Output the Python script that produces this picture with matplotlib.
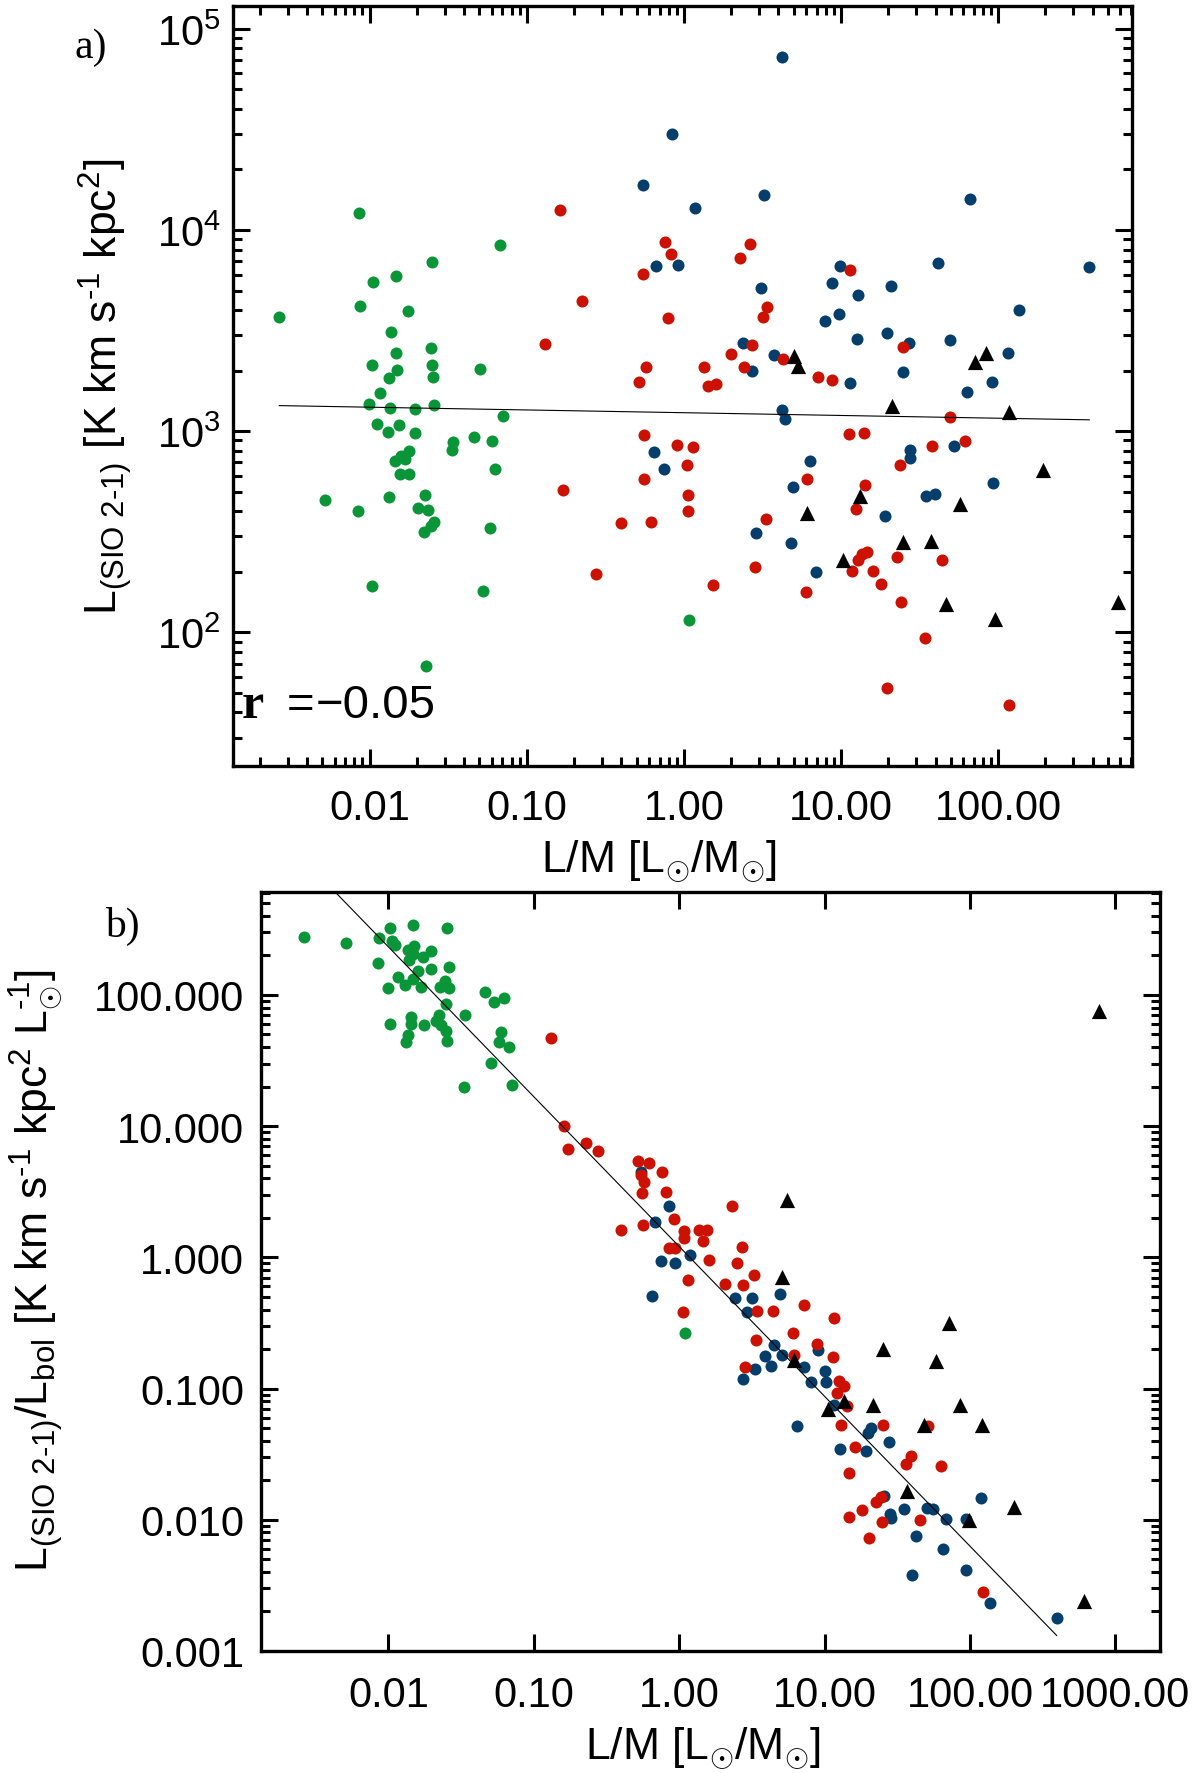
import numpy as np
import matplotlib.pyplot as plt
from matplotlib.ticker import LogLocator, FuncFormatter, NullLocator, NullFormatter

plt.rcParams['font.family'] = ['Liberation Sans', 'DejaVu Sans']
plt.rcParams['mathtext.fontset'] = 'custom'
plt.rcParams['mathtext.rm'] = 'Liberation Sans'
plt.rcParams['mathtext.it'] = 'Liberation Sans:italic'
plt.rcParams['mathtext.bf'] = 'Liberation Sans:bold'

# ---------------- panel a: L(SiO 2-1) vs L/M ----------------
green_a_x = [0.00266, 0.00854, 0.0672, 0.0248, 0.01057, 0.01472, 0.0087, 0.0175, 0.01377, 0.0147,
             0.0245, 0.01028, 0.01496, 0.0248, 0.0252, 0.01337, 0.0507, 0.0116, 0.00994, 0.01352,
             0.01945, 0.0258, 0.0701, 0.0111, 0.0154, 0.013, 0.01945, 0.0337, 0.0464, 0.060,
             0.0333, 0.0177, 0.0158, 0.0169, 0.01456, 0.01567, 0.0177, 0.0624, 0.00519, 0.00845,
             0.01337, 0.02254, 0.0204, 0.0234, 0.0258, 0.0245, 0.0221, 0.0587, 0.0104, 0.0527,
             0.0229, 1.08]
green_a_y = [3680, 12200, 8450, 6900, 5530, 5930, 4170, 3940, 3100, 2440,
             2590, 2140, 2020, 2140, 1850, 1840, 2030, 1540, 1370, 1310,
             1285, 1350, 1190, 1090, 1075, 993, 977, 885, 937, 895,
             803, 798, 753, 726, 712, 611, 611, 647, 455, 401,
             473, 481, 417, 406, 354, 338, 316, 329, 171, 161,
             67.8, 115]

red_a_x = [0.1626, 0.225, 0.1306, 0.169, 0.277, 0.753, 0.834, 0.551, 2.64, 2.27,
           11.4, 0.798, 3.39, 3.2, 2.7, 2.0, 0.577, 0.515, 1.34, 1.42,
           1.61, 2.42, 4.3, 7.1, 8.77, 24.7, 49.8, 0.554, 0.908, 1.135,
           1.04, 0.56, 1.06, 1.06, 0.396, 0.614, 1.53, 2.83, 3.31, 6.06,
           5.96, 11.2, 14.1, 23.8, 38.0, 61.2, 14.3, 12.4, 12.8, 13.7,
           14.7, 11.7, 15.9, 17.9, 22.7, 24.2, 44.0, 34.4, 19.5, 118]
red_a_y = [12600, 4450, 2710, 508, 195, 8750, 7600, 6070, 8510, 7280,
           6300, 3650, 4150, 3700, 2680, 2410, 2080, 1760, 2080, 1675,
           1710, 2090, 2280, 1860, 1790, 2620, 1180, 960, 855, 839,
           680, 577, 482, 400, 348, 354, 172, 212, 365, 577,
           158, 970, 977, 682, 842, 895, 538, 412, 230, 245,
           250, 202, 202, 175, 237, 142, 229, 93.3, 53.2, 43.4]

blue_a_x = [4.24, 0.843, 0.548, 1.18, 3.25, 66.7, 0.667, 0.918, 9.82, 41.2,
            381, 3.11, 8.81, 12.8, 20.7, 136, 7.94, 9.75, 19.7, 12.6,
            27.2, 49.2, 2.37, 3.77, 2.72, 25.0, 11.4, 116, 91.9, 63.1,
            4.24, 4.41, 0.644, 0.746, 6.34, 4.95, 2.88, 4.84, 6.98, 19.0,
            27.5, 27.5, 52.7, 34.6, 39.4, 92.9]
blue_a_y = [72300, 30100, 16700, 12900, 14900, 14200, 6640, 6740, 6640, 6830,
            6550, 5170, 5440, 4760, 5280, 4000, 3540, 3820, 3080, 2880,
            2730, 2840, 2730, 2400, 1990, 1970, 1730, 2440, 1750, 1570,
            1270, 1150, 784, 652, 711, 528, 313, 279, 200, 381,
            807, 740, 845, 476, 490, 553]

tri_a_x = [5.01, 5.36, 21.1, 84.0, 71.8, 117, 193, 13.3, 6.1, 57.3,
           10.3, 24.7, 37.2, 46.3, 95.5, 580]
tri_a_y = [2370, 2110, 1330, 2460, 2200, 1250, 641, 477, 391, 437,
           228, 281, 285, 138, 116, 141]

# log-log fit: log y = c0 + c1 * log x
fit_a = (3.092, -0.0137)
r_value_a = '\u22120.05'

# ---------------- panel b: L(SiO 2-1)/Lbol vs L/M ----------------
green_b_x = [0.00264, 0.00513, 0.01467, 0.0253, 0.0102, 0.0086, 0.01064, 0.0111, 0.01355, 0.01502,
             0.01467, 0.0195, 0.01726, 0.0138, 0.00844, 0.0195, 0.0259, 0.01597, 0.01164, 0.01467,
             0.01298, 0.00989, 0.01675, 0.0244, 0.0227, 0.0259, 0.0248, 0.0464, 0.0530, 0.0628,
             0.0337, 0.01439, 0.01439, 0.01033, 0.0176, 0.0211, 0.0224, 0.023, 0.0248, 0.01355,
             0.0133, 0.0251, 0.0591, 0.058, 0.0675, 0.0508, 0.0332, 0.0705, 1.096]
green_b_y = [277, 247, 340, 321, 321, 270, 259, 240, 220, 237,
             205, 217, 194, 185, 175, 158, 163, 153, 138, 132,
             118, 113, 114, 128, 114, 112, 85.5, 105, 88.9, 94.4,
             70.5, 67.6, 60.1, 60.1, 59.4, 63.8, 69.7, 59.1, 53.5, 49.7,
             43.7, 44.9, 52.0, 43.7, 40.0, 30.2, 19.9, 20.4, 0.264]

red_b_x = [0.1315, 0.1625, 0.1726, 0.227, 0.275, 0.524, 0.616, 0.762, 0.548, 0.573,
           0.556, 0.81, 2.31, 0.398, 0.565, 0.92, 1.07, 1.36, 1.56, 1.07,
           1.45, 0.85, 0.93, 2.69, 1.61, 2.48, 1.15, 3.26, 2.05, 2.74,
           7.21, 1.06, 3.42, 4.39, 11.6, 6.1, 3.37, 8.93, 11.5, 6.2,
           2.82, 12.6, 13.5, 12.1, 14.2, 13.0, 25.3, 51.4, 16.2, 14.7,
           36.0, 39.4, 62.8, 22.7, 24.5, 18.2, 14.7, 24.7, 45.0, 20.2,
           122]
red_b_y = [46.9, 10.1, 6.75, 7.45, 6.43, 5.43, 5.25, 4.48, 4.23, 3.72,
           3.07, 3.16, 2.47, 1.62, 1.76, 1.95, 1.58, 1.61, 1.61, 1.40,
           1.32, 1.17, 1.17, 1.19, 0.953, 0.90, 0.666, 0.727, 0.624, 0.61,
           0.434, 0.386, 0.393, 0.393, 0.344, 0.264, 0.235, 0.218, 0.173, 0.179,
           0.145, 0.115, 0.104, 0.0925, 0.0733, 0.0531, 0.0525, 0.0516, 0.0357, 0.0228,
           0.0268, 0.0305, 0.0259, 0.0137, 0.015, 0.0118, 0.0105, 0.00966, 0.00989, 0.0073,
           0.00283]

blue_b_x = [0.548, 0.85, 0.678, 1.19, 0.752, 0.93, 0.65, 2.41, 3.18, 4.93,
            2.94, 4.5, 3.87, 5.07, 4.29, 3.32, 2.75, 7.26, 9.01, 10.0,
            8.0, 10.2, 6.47, 11.6, 20.7, 19.8, 12.8, 19.4, 27.9, 25.6,
            28.2, 28.6, 35.2, 50.8, 55.6, 68.7, 93.1, 119, 42.4, 64.7,
            39.8, 94.2, 138, 394]
blue_b_y = [4.48, 2.47, 1.87, 1.04, 0.944, 0.90, 0.508, 0.494, 0.488, 0.526,
            0.386, 0.215, 0.177, 0.181, 0.149, 0.141, 0.119, 0.147, 0.195, 0.136,
            0.113, 0.113, 0.0516, 0.0746, 0.0501, 0.0459, 0.0347, 0.0333, 0.039, 0.0153,
            0.011, 0.0103, 0.0121, 0.0123, 0.0121, 0.0102, 0.0102, 0.0147, 0.00752, 0.00601,
            0.00377, 0.00414, 0.0023, 0.00177]

tri_b_x = [776, 5.5, 5.11, 72.1, 25.3, 58.3, 6.2, 10.6, 13.6, 21.5,
           85.0, 47.9, 120, 37.1, 199, 97.7, 603]
tri_b_y = [76.0, 2.73, 0.713, 0.315, 0.2, 0.163, 0.166, 0.0698, 0.0798, 0.0745,
           0.0745, 0.0531, 0.0525, 0.0167, 0.0125, 0.01, 0.0024]

fit_b = (0.082, -1.142)

GREEN = '#0a9638'
RED = '#cc1100'
BLUE = '#053e6b'

fig = plt.figure(figsize=(12, 17.74), dpi=100)
ax_a = fig.add_axes([0.1942, 0.5677, 0.7492, 0.4284])
ax_b = fig.add_axes([0.2175, 0.0688, 0.7488, 0.4279])


def draw_panel(ax, gx, gy, rx, ry, bx, by, tx, ty, fit):
    ax.set_xscale('log')
    ax.set_yscale('log')
    ax.scatter(gx, gy, s=75, c=GREEN, marker='o', linewidths=0, zorder=2)
    ax.scatter(bx, by, s=75, c=BLUE, marker='o', linewidths=0, zorder=3)
    ax.scatter(rx, ry, s=75, c=RED, marker='o', linewidths=0, zorder=4)
    ax.scatter(tx, ty, s=120, c='black', marker='^', linewidths=0, zorder=5)
    allx = np.concatenate([gx, rx, bx])
    xs = np.array([allx.min(), allx.max()])
    ys = 10 ** (fit[0] + fit[1] * np.log10(xs))
    ax.plot(xs, ys, color='black', lw=0.8, zorder=6)
    for s in ax.spines.values():
        s.set_linewidth(2.4)
    ax.tick_params(which='both', direction='in', top=True, right=True,
                   labelsize=30, width=2.2)
    ax.tick_params(which='major', length=12)
    ax.tick_params(which='minor', length=6.5)
    ax.xaxis.set_major_formatter(FuncFormatter(lambda v, p: '%.2f' % v))
    ax.xaxis.set_minor_formatter(NullFormatter())
    ax.yaxis.set_minor_formatter(NullFormatter())
    ax.xaxis.set_major_locator(LogLocator(base=10, numticks=20))
    ax.yaxis.set_major_locator(LogLocator(base=10, numticks=20))
    ax.yaxis.set_minor_locator(LogLocator(base=10, subs=np.arange(2, 10), numticks=20))


draw_panel(ax_a, np.array(green_a_x), np.array(green_a_y), np.array(red_a_x), np.array(red_a_y),
           np.array(blue_a_x), np.array(blue_a_y), np.array(tri_a_x), np.array(tri_a_y), fit_a)
ax_a.set_xlim(0.00135, 713)
ax_a.set_ylim(21.7, 1.3e5)
ax_a.xaxis.set_minor_locator(LogLocator(base=10, subs=np.arange(2, 10), numticks=20))
ax_a.yaxis.set_major_formatter(FuncFormatter(lambda v, p: r'10$^{%d}$' % round(np.log10(v))))
ax_a.tick_params(axis='x', pad=16)
ax_a.tick_params(axis='y', pad=9)

draw_panel(ax_b, np.array(green_b_x), np.array(green_b_y), np.array(red_b_x), np.array(red_b_y),
           np.array(blue_b_x), np.array(blue_b_y), np.array(tri_b_x), np.array(tri_b_y), fit_b)
ax_b.set_xlim(0.00133, 2010)
ax_b.set_ylim(0.001, 610)
ax_b.xaxis.set_minor_locator(NullLocator())
ax_b.yaxis.set_major_formatter(FuncFormatter(lambda v, p: '%.3f' % v))
ax_b.tick_params(axis='x', pad=17)
ax_b.tick_params(axis='y', pad=12)

# labels
xlab = r'L/M [L$_{\odot}$/M$_{\odot}$]'
fig.text(659 / 1200, 1 - 873 / 1774, xlab, fontsize=32, ha='center', va='baseline')
fig.text(703 / 1200, 1 - 1760 / 1774, xlab, fontsize=32, ha='center', va='baseline')
fig.text(105 / 1200, 1 - 387 / 1774,
         r'L$_{\text{(SIO 2-1)}}$ [K km s$^{\text{-1}}$ kpc$^{2}$]',
         fontsize=32, rotation=90, ha='center', va='center')
fig.text(37 / 1200, 1 - 1271 / 1774,
         r'L$_{\text{(SIO 2-1)}}$/L$_{\text{bol}}$ [K km s$^{\text{-1}}$ kpc$^{2}$ L$_{\odot}^{\text{-1}}$]',
         fontsize=32, rotation=90, ha='center', va='center')

fig.text(75 / 1200, 1 - 58 / 1774, 'a)', fontsize=30, family='Liberation Serif', va='baseline')
fig.text(105 / 1200, 1 - 937 / 1774, 'b)', fontsize=30, family='Liberation Serif', va='baseline')

# correlation coefficient
fig.text(242 / 1200, 1 - 718 / 1774, 'r', fontsize=36,
         family='Liberation Serif', weight='bold', va='baseline')
fig.text(287 / 1200, 1 - 718 / 1774, '=', fontsize=34, va='baseline')
fig.text(316 / 1200, 1 - 718 / 1774, r_value_a, fontsize=34, va='baseline')

fig.savefig('out.png', dpi=100)
